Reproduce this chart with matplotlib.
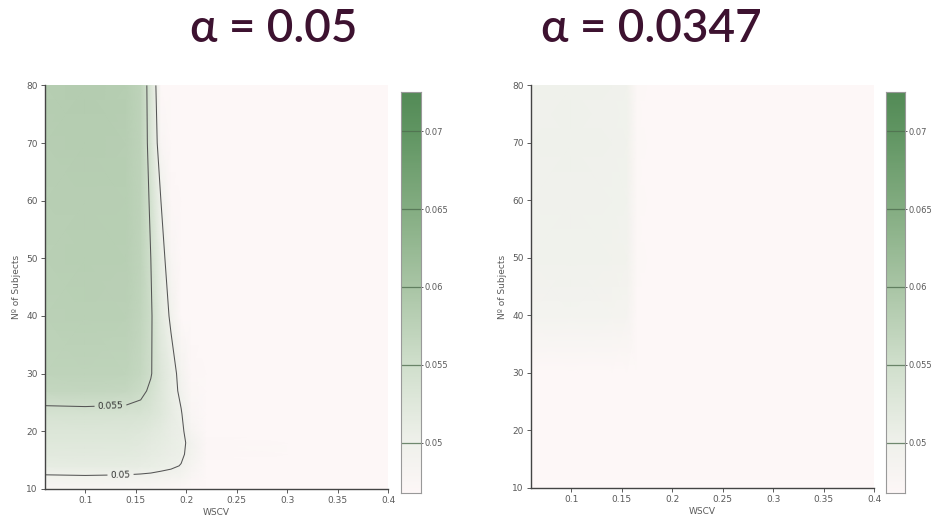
import numpy as np
import matplotlib.pyplot as plt
from matplotlib.colors import LinearSegmentedColormap

# grid of the simulation
wscv = [0.06, 0.10, 0.14, 0.155, 0.165, 0.175, 0.185, 0.195, 0.205, 0.22, 0.30, 0.40]
n_subjects = [10, 12, 14, 16, 18, 20, 23, 27, 30, 40, 50, 60, 70, 80]

# empirical size, alpha = 0.05 (rows = n_subjects, cols = wscv)
size_005 = [
    [0.0480, 0.0481, 0.0480, 0.0479, 0.0478, 0.0476, 0.0474, 0.0472, 0.0470, 0.0468, 0.0468, 0.0468],
    [0.0496, 0.0497, 0.0496, 0.0495, 0.0494, 0.0492, 0.0490, 0.0487, 0.0478, 0.0470, 0.0468, 0.0468],
    [0.0514, 0.0515, 0.0514, 0.0512, 0.0510, 0.0507, 0.0504, 0.0499, 0.0484, 0.0470, 0.0468, 0.0468],
    [0.0521, 0.0522, 0.0521, 0.0519, 0.0515, 0.0512, 0.0508, 0.0504, 0.0492, 0.0472, 0.0468, 0.0468],
    [0.0526, 0.0527, 0.0526, 0.0523, 0.0519, 0.0515, 0.0510, 0.0505, 0.0494, 0.0472, 0.0468, 0.0468],
    [0.0531, 0.0532, 0.0531, 0.0528, 0.0523, 0.0518, 0.0511, 0.0506, 0.0484, 0.0470, 0.0468, 0.0468],
    [0.0541, 0.0542, 0.0541, 0.0539, 0.0534, 0.0526, 0.0514, 0.0502, 0.0478, 0.0468, 0.0468, 0.0468],
    [0.0566, 0.0567, 0.0565, 0.0557, 0.0545, 0.0528, 0.0512, 0.0494, 0.0474, 0.0468, 0.0468, 0.0468],
    [0.0572, 0.0574, 0.0572, 0.0564, 0.0552, 0.0530, 0.0512, 0.0490, 0.0472, 0.0468, 0.0468, 0.0468],
    [0.0578, 0.0580, 0.0579, 0.0570, 0.0554, 0.0520, 0.0495, 0.0470, 0.0468, 0.0468, 0.0468, 0.0468],
    [0.0580, 0.0582, 0.0581, 0.0572, 0.0550, 0.0513, 0.0480, 0.0468, 0.0468, 0.0468, 0.0468, 0.0468],
    [0.0581, 0.0583, 0.0582, 0.0573, 0.0545, 0.0500, 0.0472, 0.0468, 0.0468, 0.0468, 0.0468, 0.0468],
    [0.0583, 0.0585, 0.0583, 0.0573, 0.0538, 0.0478, 0.0468, 0.0468, 0.0468, 0.0468, 0.0468, 0.0468],
    [0.0584, 0.0586, 0.0584, 0.0573, 0.0535, 0.0465, 0.0468, 0.0468, 0.0468, 0.0468, 0.0468, 0.0468],
]

# empirical size, alpha = 0.0347
size_00347 = [
    [0.0468, 0.0468, 0.0468, 0.0468, 0.0468, 0.0468, 0.0468, 0.0468, 0.0468, 0.0468, 0.0468, 0.0468],
    [0.0468, 0.0468, 0.0468, 0.0468, 0.0468, 0.0468, 0.0468, 0.0468, 0.0468, 0.0468, 0.0468, 0.0468],
    [0.0468, 0.0468, 0.0468, 0.0468, 0.0468, 0.0468, 0.0468, 0.0468, 0.0468, 0.0468, 0.0468, 0.0468],
    [0.0468, 0.0468, 0.0468, 0.0468, 0.0468, 0.0468, 0.0468, 0.0468, 0.0468, 0.0468, 0.0468, 0.0468],
    [0.0468, 0.0468, 0.0468, 0.0468, 0.0468, 0.0468, 0.0468, 0.0468, 0.0468, 0.0468, 0.0468, 0.0468],
    [0.0468, 0.0468, 0.0468, 0.0468, 0.0468, 0.0468, 0.0468, 0.0468, 0.0468, 0.0468, 0.0468, 0.0468],
    [0.0468, 0.0468, 0.0468, 0.0468, 0.0468, 0.0468, 0.0468, 0.0468, 0.0468, 0.0468, 0.0468, 0.0468],
    [0.0468, 0.0468, 0.0468, 0.0468, 0.0468, 0.0468, 0.0468, 0.0468, 0.0468, 0.0468, 0.0468, 0.0468],
    [0.0469, 0.0469, 0.0469, 0.0469, 0.0468, 0.0468, 0.0468, 0.0468, 0.0468, 0.0468, 0.0468, 0.0468],
    [0.0490, 0.0491, 0.0490, 0.0488, 0.0470, 0.0468, 0.0468, 0.0468, 0.0468, 0.0468, 0.0468, 0.0468],
    [0.0497, 0.0498, 0.0497, 0.0495, 0.0471, 0.0468, 0.0468, 0.0468, 0.0468, 0.0468, 0.0468, 0.0468],
    [0.0498, 0.0499, 0.0498, 0.0496, 0.0471, 0.0468, 0.0468, 0.0468, 0.0468, 0.0468, 0.0468, 0.0468],
    [0.0499, 0.0500, 0.0499, 0.0497, 0.0471, 0.0468, 0.0468, 0.0468, 0.0468, 0.0468, 0.0468, 0.0468],
    [0.0499, 0.0500, 0.0499, 0.0497, 0.0471, 0.0468, 0.0468, 0.0468, 0.0468, 0.0468, 0.0468, 0.0468],
]

titles = ["α = 0.05", "α = 0.0347"]
cbar_ticks = [0.05, 0.055, 0.06, 0.065, 0.07]
zmin, zmax = 0.0468, 0.0725

cmap = LinearSegmentedColormap.from_list("size", [
    (0.0, "#fdf7f7"), (0.125, "#eff1eb"), (0.32, "#d0dfcc"),
    (0.515, "#a9c5a5"), (0.71, "#84ad82"), (0.905, "#609562"), (1.0, "#548b57")])

fig = plt.figure(figsize=(9.33, 5.24), dpi=100)
grey = "#5a5a5a"
axes_pos = [[0.048, 0.067, 0.368, 0.770], [0.569, 0.069, 0.368, 0.768]]
cbar_pos = [[0.4301, 0.060, 0.0215, 0.764], [0.9495, 0.060, 0.0205, 0.764]]
title_x = [0.293, 0.698]

X, Y = np.meshgrid(wscv, n_subjects)
for i, Z in enumerate([size_005, size_00347]):
    Z = np.array(Z)
    ax = fig.add_axes(axes_pos[i])
    ax.pcolormesh(X, Y, Z, shading="gouraud", cmap=cmap, vmin=zmin, vmax=zmax)
    if i == 0:
        cs = ax.contour(X, Y, Z, levels=[0.05, 0.055], colors="#555555", linewidths=0.75)
        ax.clabel(cs, fmt=lambda v: f"{v:g}", fontsize=6.5, colors="#333333",
                  manual=[(0.135, 12.5), (0.125, 24.8)], inline=True, inline_spacing=3)
    ax.set_xlim(0.06, 0.4)
    ax.set_ylim(10, 80)
    ax.set_xticks([0.1, 0.15, 0.2, 0.25, 0.3, 0.35, 0.4])
    ax.set_xticklabels(["0.1", "0.15", "0.2", "0.25", "0.3", "0.35", "0.4"])
    ax.set_yticks([10, 20, 30, 40, 50, 60, 70, 80])
    for s in ["top", "right"]:
        ax.spines[s].set_visible(False)
    for s in ["left", "bottom"]:
        ax.spines[s].set_color("#444444")
        ax.spines[s].set_linewidth(1.0)
    ax.tick_params(colors=grey, labelsize=6.5, length=3, width=0.7, pad=2)
    ax.set_xlabel("WSCV", fontsize=6.5, color=grey, labelpad=2)
    ax.set_ylabel("Nº of Subjects", fontsize=6.5, color=grey, labelpad=4)

    # colorbar
    cax = fig.add_axes(cbar_pos[i])
    grad = np.linspace(zmin, zmax, 300).reshape(-1, 1)
    cax.imshow(grad, aspect="auto", origin="lower", cmap=cmap, vmin=zmin, vmax=zmax,
               extent=[0, 1, zmin, zmax])
    for t in cbar_ticks:
        cax.axhline(t, color="#4f6e4f", lw=0.9, alpha=0.8)
    cax.set_xticks([])
    cax.yaxis.tick_right()
    cax.set_yticks(cbar_ticks)
    cax.set_yticklabels([f"{t:g}" for t in cbar_ticks])
    cax.tick_params(colors=grey, labelsize=6, length=1.5, width=0.7, pad=1)
    for s in cax.spines.values():
        s.set_color("#999999")
        s.set_linewidth(0.8)

    fig.text(title_x[i], 0.945, titles[i], ha="center", va="center", fontsize=33,
             color="#3d1230", family=["Lato", "DejaVu Sans"], fontweight="semibold")

fig.savefig("out.png", dpi=100, facecolor="white")
